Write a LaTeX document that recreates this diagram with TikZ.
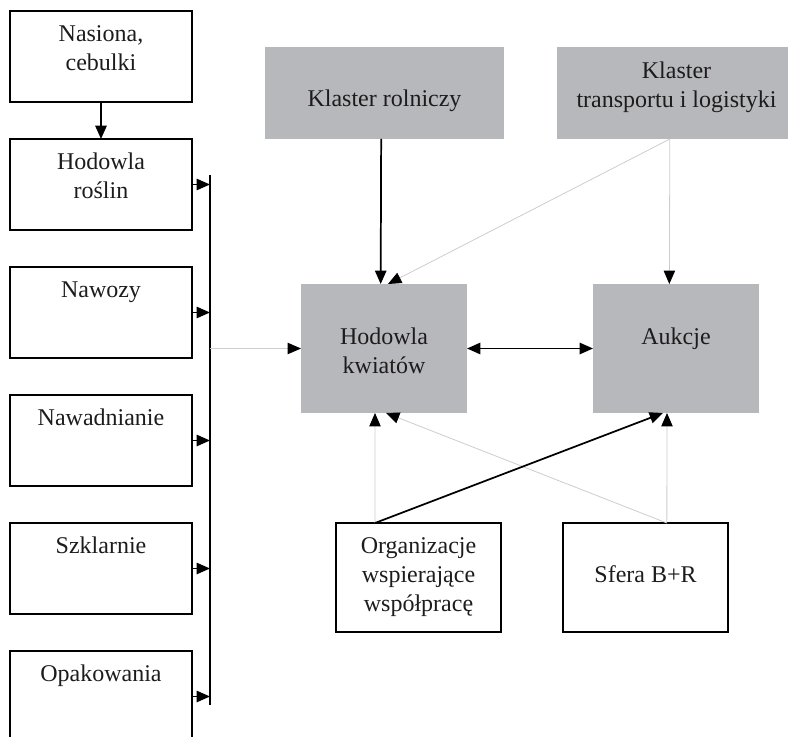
\documentclass[tikz,border=0pt]{standalone}
\usepackage{fontspec}
\setmainfont{Liberation Serif}
\usetikzlibrary{arrows.meta, positioning}

\definecolor{clustergray}{RGB}{183,184,188}
\definecolor{linegray}{RGB}{205,205,205}
\definecolor{inkgray}{RGB}{30,27,28}

\begin{document}
\begin{tikzpicture}[
    x=0.75pt, y=-0.75pt,
    % Define box styles
    supply/.style={
        rectangle,
        draw=black,
        line width=1.1pt,
        minimum width=136.5pt,
        minimum height=68.25pt,
        inner sep=0pt,
        outer sep=0pt,
        text height=22.9pt,
        text depth=45.35pt,
        align=center,
        text=inkgray,
        font=\fontsize{18}{21.75}\selectfont
    },
    % two lines: the baseline used is the last one
    supplytwo/.style={
        supply,
        text height=44.65pt,
        text depth=23.6pt
    },
    actor/.style={
        supply,
        minimum width=123.75pt,
        minimum height=81.75pt
    },
    cluster/.style={
        rectangle,
        fill=clustergray,
        draw=none,
        inner sep=0pt,
        outer sep=0pt,
        align=center,
        text=inkgray,
        font=\fontsize{18}{21.75}\selectfont
    },
    % Define arrow styles
    boldlink/.style={line width=1.3pt, -{Triangle[length=10pt, width=8.5pt]}},
    faintlink/.style={draw=linegray, line width=0.6pt, -{Triangle[length=10pt, width=8.5pt, color=black]}}
]
    \useasboundingbox (0,0) rectangle (788,737);
    \clip (0,0) rectangle (788,737);

    % =================================================================
    % --- LEFT COLUMN: supply boxes ---
    % =================================================================
    \node[supplytwo] (nasiona) at (101, 56.5) {Nasiona,\\cebulki};
    \node[supplytwo, below=27.75pt of nasiona] (hodowlaR) {Hodowla\\roślin};
    \node[supply, below=27.75pt of hodowlaR] (nawozy) {Nawozy};
    \node[supply, below=27.75pt of nawozy] (nawadnianie) {Nawadnianie};
    \node[supply, below=27.75pt of nawadnianie] (szklarnie) {Szklarnie};
    \node[supply, below=27.75pt of szklarnie] (opakowania) {Opakowania};

    % collecting bus
    \coordinate (busTop) at (210, 175);
    \coordinate (busBottom) at (210, 705);
    \draw[line width=1.1pt] (busTop) -- (busBottom);

    \draw[boldlink] (nasiona) -- (hodowlaR);
    \foreach \src in {hodowlaR, nawozy, nawadnianie, szklarnie, opakowania}
        \draw[boldlink, line width=1.1pt] (\src.east) -- (\src.east -| busTop);

    % =================================================================
    % --- CENTRE: clusters, growing and auctions ---
    % =================================================================
    \node[cluster, minimum width=124.5pt, minimum height=96.75pt,
          text height=67.5pt, text depth=29.25pt] (hodowlaK) at (384, 348.5) {Hodowla\\kwiatów};
    \node[cluster, minimum width=124.5pt, minimum height=96.75pt,
          text height=45.75pt, text depth=51pt, right=94.5pt of hodowlaK] (aukcje) {Aukcje};

    \node[cluster, minimum width=179.25pt, minimum height=69pt,
          text height=45pt, text depth=24pt] (klasterR) at (384.5, 93) {Klaster rolniczy};
    \node[cluster, minimum width=179.25pt, minimum height=69pt,
          text height=45.75pt, text depth=23.25pt, right=39.75pt of klasterR] (klasterT) {Klaster\\transportu i logistyki};

    % bottom row
    \node[actor, text height=66pt, text depth=15.75pt] (organizacje) at (418.5, 577.5) {Organizacje\\wspierające\\współpracę};
    \node[actor, text height=44.25pt, text depth=37.5pt, right=46.5pt of organizacje] (sfera) {Sfera B+R};

    % faint links first
    \draw[faintlink] (busTop |- hodowlaK.west) -- (hodowlaK.west);
    \draw[faintlink] ([xshift=-5pt]klasterT.south) -- ([xshift=3pt]hodowlaK.north);
    \draw[faintlink] ([xshift=-5pt]klasterT.south) -- ([xshift=-5pt]aukcje.north);
    \draw[faintlink] ([xshift=-32.6pt]organizacje.north) -- ([xshift=-6.75pt]hodowlaK.south);
    \draw[faintlink] ([xshift=16pt]sfera.north) -- ([xshift=-6.75pt]aukcje.south);
    \draw[faintlink] ([xshift=16pt]sfera.north) -- ([xshift=1.5pt]hodowlaK.south);

    % bold links on top
    \draw[boldlink] ([xshift=-2.5pt]klasterR.south) -- ([xshift=-2.5pt]hodowlaK.north);
    \draw[boldlink, {Triangle[length=10pt, width=8.5pt]}-{Triangle[length=10pt, width=8.5pt]}] (hodowlaK) -- (aukcje);
    \draw[boldlink] ([xshift=-32.6pt]organizacje.north) -- ([xshift=-9.75pt]aukcje.south);
\end{tikzpicture}
\end{document}
